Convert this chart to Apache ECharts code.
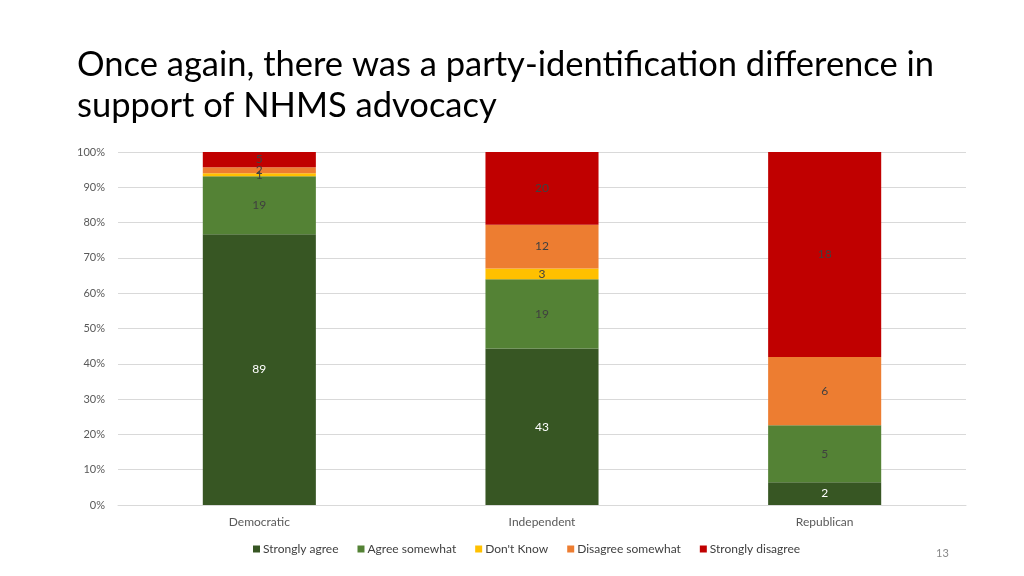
<!DOCTYPE html>
<html>
<head>
<meta charset="utf-8">
<script src="https://cdn.jsdelivr.net/npm/echarts@6/dist/echarts.min.js"></script>
<style>
html,body{margin:0;padding:0;background:#fff;}
#chart{width:1024px;height:576px;}
</style>
</head>
<body>
<div id="chart"></div>
<script>
const categories = ['Democratic', 'Independent', 'Republican'];
const seriesNames = ['Strongly agree', 'Agree somewhat', "Don't Know", 'Disagree somewhat', 'Strongly disagree'];
const stronglyAgree = [89, 43, 2];
const agreeSomewhat = [19, 19, 5];
const dontKnow = [1, 3, 0];
const disagreeSomewhat = [2, 12, 6];
const stronglyDisagree = [5, 20, 18];
const colors = ['#375623', '#548235', '#FFC000', '#ED7D31', '#C00000'];
const labelColors = ['#ffffff', '#404040', '#404040', '#404040', '#404040'];
const yTicks = ['0%','10%','20%','30%','40%','50%','60%','70%','80%','90%','100%'];

const counts = [stronglyAgree, agreeSomewhat, dontKnow, disagreeSomewhat, stronglyDisagree];
const totals = categories.map((c, i) => counts.reduce((s, arr) => s + arr[i], 0));
const FONT = 'Lato, "Open Sans", sans-serif';

const chart = echarts.init(document.getElementById('chart'));
const series = seriesNames.map((name, k) => ({
  name: name,
  type: 'bar',
  stack: 'total',
  barWidth: '40%',
  itemStyle: { color: colors[k] },
  data: counts[k].map((v, i) => ({ value: v / totals[i] * 100, count: v })),
  label: {
    show: true,
    position: 'inside',
    color: labelColors[k],
    fontSize: 12,
    fontFamily: FONT,
    formatter: p => p.data.count === 0 ? '' : String(p.data.count)
  }
}));

chart.setOption({
  animation: false,
  title: [{
    text: 'Once again, there was a party-identification difference in\nsupport of NHMS advocacy',
    left: 72, top: 39,
    textStyle: { fontFamily: FONT, fontSize: 34.5, fontWeight: 'normal', color: '#000', lineHeight: 41 }
  }, {
    text: '13',
    left: 931, top: 543,
    textStyle: { fontFamily: FONT, fontSize: 11, fontWeight: 'normal', color: '#888' }
  }],
  legend: {
    data: seriesNames,
    left: 248, top: 538,
    itemWidth: 7, itemHeight: 7, itemGap: 19,
    icon: 'rect',
    textStyle: { fontFamily: FONT, fontSize: 12, color: '#404040', padding: [0,0,0,-2] }
  },
  grid: { left: 118, right: 58, top: 152, bottom: 71, containLabel: false },
  xAxis: {
    type: 'category',
    data: categories,
    axisLine: { lineStyle: { color: '#d9d9d9' } },
    axisTick: { show: false },
    axisLabel: { color: '#595959', fontSize: 12, margin: 11, fontFamily: FONT }
  },
  yAxis: {
    type: 'value',
    min: 0, max: 100, interval: 10,
    axisLine: { show: false },
    axisTick: { show: false },
    splitLine: { lineStyle: { color: '#d9d9d9' } },
    axisLabel: { color: '#595959', fontSize: 11, margin: 13, fontFamily: FONT,
      formatter: v => yTicks[Math.round(v / 10)] }
  },
  series: series
});
</script>
</body>
</html>
